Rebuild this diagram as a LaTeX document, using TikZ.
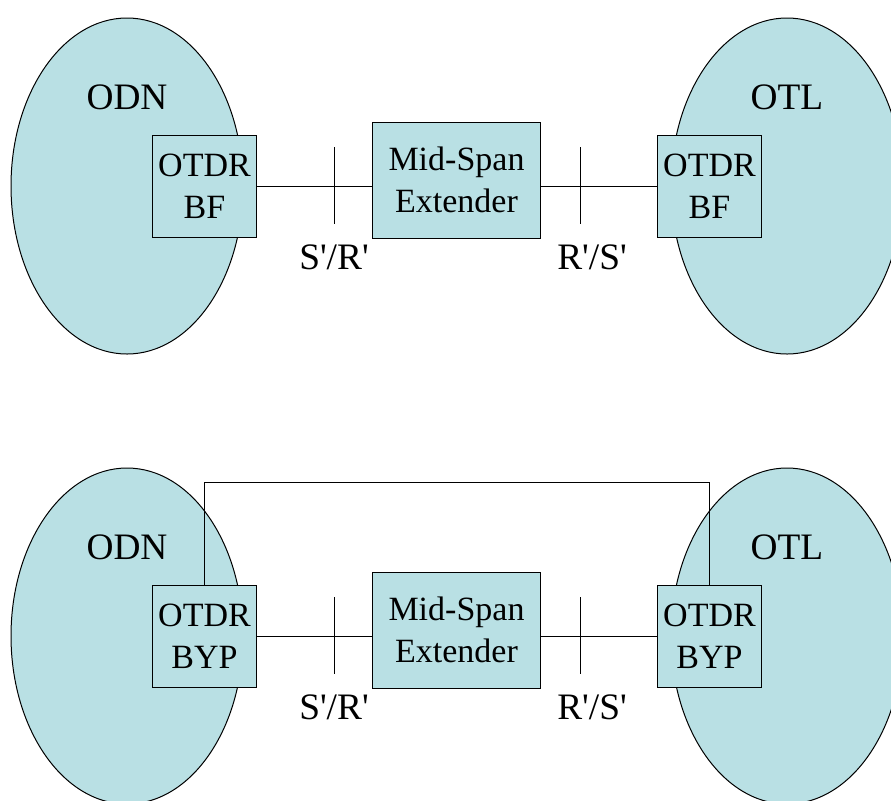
\documentclass[tikz,border=0pt]{standalone}
\usepackage{fontspec}
\setmainfont{Liberation Serif}
\usetikzlibrary{shapes.geometric}
\definecolor{netblue}{RGB}{185,224,228}
\newcommand{\q}{\textquotesingle}
\begin{document}
\begin{tikzpicture}[x=0.75pt,y=-0.75pt,line width=0.75pt,
	font=\fontsize{25.5}{31.5}\selectfont,
	cloud/.style={draw,ellipse,fill=netblue,inner sep=0pt,minimum width=174pt,minimum height=252pt},
	otdr/.style={draw,fill=netblue,align=center,inner sep=0pt,minimum width=78pt,minimum height=77pt},
	mse/.style={draw,fill=netblue,align=center,inner sep=0pt,minimum width=126.5pt,minimum height=87pt},
	big/.style={font=\fontsize{28}{33}\selectfont}]
\useasboundingbox (0,0) rectangle (891,800);
\clip (0,0) rectangle (891,800);
\node[cloud] (odnA) at (127,186) {};
\node[cloud] (otlA) at (787,186) {};
\node[big] (odnAt) at (127,97) {ODN};
\node[big] (otlAt) at (787,97) {OTL};
\node[otdr] (bfL) at (204.5,186.5) {OTDR\\BF};
\node[otdr] (bfR) at (709.5,186.5) {OTDR\\BF};
\node[mse] (msA) at (456.5,180) {Mid-Span\\Extender};
\coordinate (tAa) at (334,147);
\coordinate (tAb) at (334,224);
\coordinate (tBa) at (580,147);
\coordinate (tBb) at (580,224);
\node[big] (srA) at (334,257) {S\q/R\q};
\node[big] (rsA) at (592,257) {R\q/S\q};

\draw  (bfL.east) -- (bfL.east -| msA.west);
\draw  (msA.east |- bfR.west) -- (bfR.west);
\draw  (tAa) -- (tAb);
\draw  (tBa) -- (tBb);

\node[cloud] (odnB) at (127,636) {};
\node[cloud] (otlB) at (787,636) {};
\node[big] (odnBt) at (127,547) {ODN};
\node[big] (otlBt) at (787,547) {OTL};
\node[otdr] (byL) at (204.5,636.5) {OTDR\\BYP};
\node[otdr] (byR) at (709.5,636.5) {OTDR\\BYP};
\node[mse] (msB) at (456.5,630) {Mid-Span\\Extender};
\coordinate (tCa) at (334,597);
\coordinate (tCb) at (334,674);
\coordinate (tDa) at (580,597);
\coordinate (tDb) at (580,674);
\coordinate (loop) at (456,482);
\node[big] (srB) at (334,707) {S\q/R\q};
\node[big] (rsB) at (592,707) {R\q/S\q};

\draw  (byL.east) -- (byL.east -| msB.west);
\draw  (msB.east |- byR.west) -- (byR.west);
\draw  (tCa) -- (tCb);
\draw  (tDa) -- (tDb);
\draw  (byL.north) |- (loop) -| (byR.north);
\end{tikzpicture}
\end{document}
